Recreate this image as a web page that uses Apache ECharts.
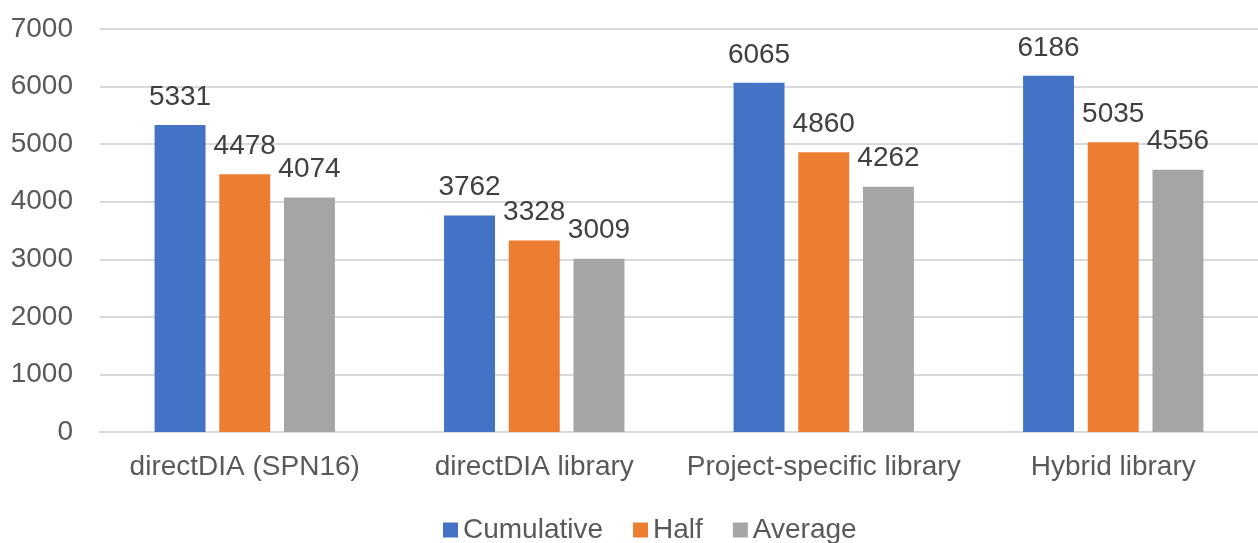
<!DOCTYPE html>
<html>
<head>
<meta charset="utf-8">
<script src="https://cdn.jsdelivr.net/npm/echarts@6/dist/echarts.min.js"></script>
<style>
  html, body { margin: 0; padding: 0; background: #ffffff; }
  #chart { width: 1258px; height: 543px; }
</style>
</head>
<body>
<div id="chart"></div>
<script>
// Identification counts per search strategy
const categories = ['directDIA (SPN16)', 'directDIA library', 'Project-specific library', 'Hybrid library'];
const cumulative = [5331, 3762, 6065, 6186];
const half = [4478, 3328, 4860, 5035];
const average = [4074, 3009, 4262, 4556];
const yTicks = [0, 1000, 2000, 3000, 4000, 5000, 6000, 7000];

const font = '"Liberation Sans", Arial, sans-serif';
const fs = 28;

function barSeries(name, values, color) {
  return {
    name: name,
    type: 'bar',
    data: values,
    barWidth: '17.6%',
    barGap: '27%',
    itemStyle: { color: color },
    label: {
      show: true,
      position: 'top',
      distance: 14,
      color: '#404040',
      fontFamily: font,
      fontSize: fs
    }
  };
}

const chart = echarts.init(document.getElementById('chart'), null, { renderer: 'canvas' });
chart.setOption({
  animation: false,
  textStyle: { fontFamily: font },
  grid: { left: 100, right: 0, top: 29, bottom: 111, containLabel: false },
  legend: {
    top: 511,
    left: 438,
    itemWidth: 15,
    itemHeight: 15,
    itemGap: 30,
    icon: 'rect',
    textStyle: { color: '#595959', fontSize: fs, fontFamily: font },
    data: ['Cumulative', 'Half', 'Average']
  },
  xAxis: {
    type: 'category',
    data: categories,
    axisLine: { lineStyle: { color: '#d9d9d9', width: 2 } },
    axisTick: { show: false },
    axisLabel: { color: '#595959', fontSize: fs, fontFamily: font, margin: 21, interval: 0 }
  },
  yAxis: {
    type: 'value',
    min: yTicks[0],
    max: yTicks[yTicks.length - 1],
    interval: 1000,
    axisLine: { show: false },
    axisTick: { show: false },
    axisLabel: { color: '#595959', fontSize: fs, fontFamily: font, margin: 27, formatter: v => String(v) },
    splitLine: { lineStyle: { color: '#d9d9d9', width: 2 } }
  },
  series: [
    barSeries('Cumulative', cumulative, '#4472c4'),
    barSeries('Half', half, '#ed7d31'),
    barSeries('Average', average, '#a5a5a5')
  ]
});
</script>
</body>
</html>
